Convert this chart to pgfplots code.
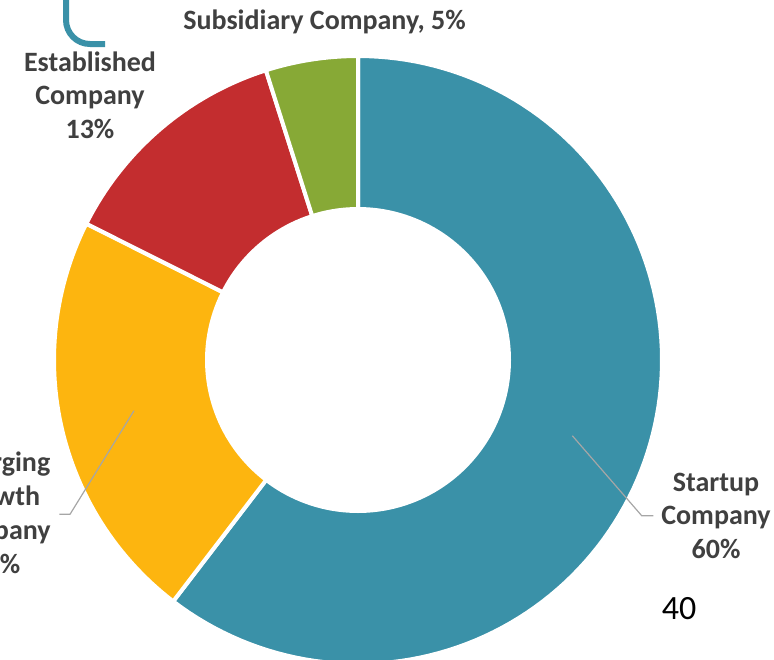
\documentclass[border=0pt]{standalone}
\usepackage{pgfplots}
\pgfplotsset{compat=1.18}
\usepackage{pgfplotstable}
\usepackage{fontspec}
\setmainfont{Carlito}
\definecolor{cTeal}{HTML}{3A91A8}
\definecolor{cYellow}{HTML}{FDB50F}
\definecolor{cRed}{HTML}{C32D2F}
\definecolor{cGreen}{HTML}{87A936}
\definecolor{cText}{HTML}{404040}
\definecolor{cLine}{HTML}{A6A6A6}

\pgfplotstableread{
label pct
Startup 60.4
Emerging 22.0
Established 12.7
Subsidiary 4.9
}\slicetable
\pgfplotstablegetelem{0}{pct}\of\slicetable \edef\pA{\pgfplotsretval}
\pgfplotstablegetelem{1}{pct}\of\slicetable \edef\pB{\pgfplotsretval}
\pgfplotstablegetelem{2}{pct}\of\slicetable \edef\pC{\pgfplotsretval}
\pgfplotstablegetelem{3}{pct}\of\slicetable \edef\pD{\pgfplotsretval}
\pgfmathsetmacro\tA{0}
\pgfmathsetmacro\tB{\tA+3.6*\pA}
\pgfmathsetmacro\tC{\tB+3.6*\pB}
\pgfmathsetmacro\tD{\tC+3.6*\pC}
\pgfmathsetmacro\tE{\tD+3.6*\pD}
\def\cx{358}
\def\cy{360}
\def\Rout{304}
\def\Rin{153}

\begin{document}
\begin{tikzpicture}[x=1pt,y=1pt]
\useasboundingbox (0,0) rectangle (774,659);
\clip (0,0) rectangle (774,659);
\begin{axis}[at={(0,0)}, anchor=south west, x=1pt, y=1pt,
  xmin=0, xmax=774, ymin=0, ymax=659, y dir=reverse,
  hide axis, clip=false, scale only axis]
\addplot[fill=cTeal, draw=white, line width=4pt, domain=\tA:\tB, samples=120, variable=\t]
  ({\cx+\Rout*sin(\t)}, {\cy-\Rout*cos(\t)}) -- (axis cs:\cx,\cy) -- cycle;
\addplot[fill=cYellow, draw=white, line width=4pt, domain=\tB:\tC, samples=60, variable=\t]
  ({\cx+\Rout*sin(\t)}, {\cy-\Rout*cos(\t)}) -- (axis cs:\cx,\cy) -- cycle;
\addplot[fill=cRed, draw=white, line width=4pt, domain=\tC:\tD, samples=40, variable=\t]
  ({\cx+\Rout*sin(\t)}, {\cy-\Rout*cos(\t)}) -- (axis cs:\cx,\cy) -- cycle;
\addplot[fill=cGreen, draw=white, line width=4pt, domain=\tD:\tE, samples=20, variable=\t]
  ({\cx+\Rout*sin(\t)}, {\cy-\Rout*cos(\t)}) -- (axis cs:\cx,\cy) -- cycle;
\addplot[fill=white, draw=none, domain=0:360, samples=181, variable=\t]
  ({\cx+\Rin*sin(\t)}, {\cy-\Rin*cos(\t)}) -- cycle;
% leader lines
\addplot[cLine, line width=1.2pt, no marks] coordinates {(572.3,435.7) (641.7,515.7) (653.3,515.7)};
\addplot[cLine, line width=1.2pt, no marks] coordinates {(134,410.7) (70,514.3) (59.3,514.3)};
% decoration
\draw[cTeal, line width=6pt, rounded corners=24pt] (axis cs:66,-20) -- (axis cs:66,44) -- (axis cs:105,44);
% labels
\begin{scope}[every node/.style={anchor=base, text=cText, font=\fontsize{28}{33.6}\selectfont\bfseries, inner sep=0pt}]
\node at (axis cs:324.5,29) {Subsidiary Company, 5\%};
\node at (axis cs:90,71) {Established};
\node at (axis cs:90,104.5) {Company};
\node at (axis cs:90,138) {13\%};
\node at (axis cs:716,491) {Startup};
\node at (axis cs:716,524.5) {Company};
\node at (axis cs:716,558) {60\%};
\node at (axis cs:-4,471) {Emerging};
\node at (axis cs:-4,505) {Growth};
\node at (axis cs:-4,539) {Company};
\node at (axis cs:-4,573) {22\%};
\end{scope}
\node[anchor=base, text=black, font=\fontsize{34}{40}\selectfont, inner sep=0pt] at (axis cs:679,619) {40};
\end{axis}
\end{tikzpicture}
\end{document}
